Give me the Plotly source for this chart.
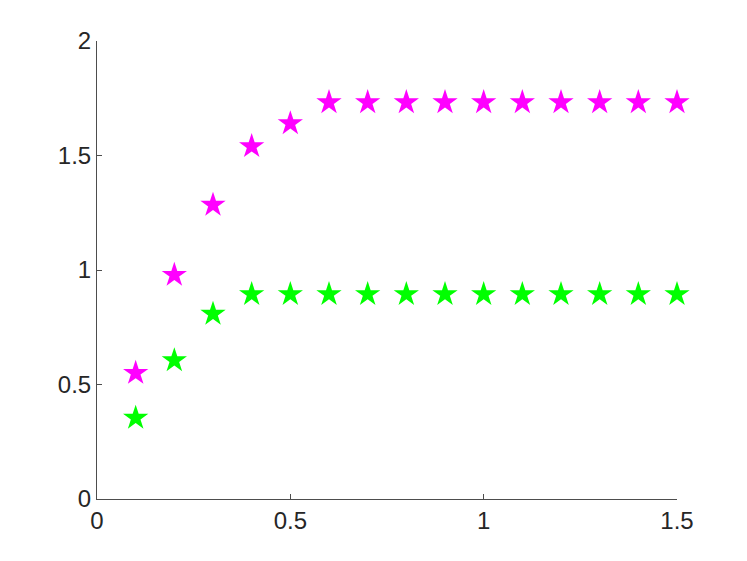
import plotly.graph_objects as go

x = [0.1, 0.2, 0.3, 0.4, 0.5, 0.6, 0.7, 0.8, 0.9, 1.0, 1.1, 1.2, 1.3, 1.4, 1.5]
magenta_y = [0.55, 0.978, 1.284, 1.54, 1.64, 1.732, 1.732, 1.732, 1.732, 1.732, 1.732, 1.732, 1.732, 1.732, 1.732]
green_y = [0.354, 0.605, 0.808, 0.894, 0.894, 0.894, 0.894, 0.894, 0.894, 0.894, 0.894, 0.894, 0.894, 0.894, 0.894]
x_ticks = [0, 0.5, 1, 1.5]
x_labels = ["0", "0.5", "1", "1.5"]
y_ticks = [0, 0.5, 1, 1.5, 2]
y_labels = ["0", "0.5", "1", "1.5", "2"]

fig = go.Figure()
fig.add_trace(go.Scatter(x=x, y=magenta_y, mode="markers", cliponaxis=False,
                         marker=dict(symbol="star", size=19, color="#ff00ff", line=dict(width=0))))
fig.add_trace(go.Scatter(x=x, y=green_y, mode="markers", cliponaxis=False,
                         marker=dict(symbol="star", size=19, color="#00ff00", line=dict(width=0))))

fig.update_layout(
    width=731, height=545,
    margin=dict(l=89, r=62, t=33, b=54),
    paper_bgcolor="white", plot_bgcolor="white",
    showlegend=False,
    font=dict(family="Liberation Sans", size=24, color="#262626"),
)
fig.update_xaxes(range=[0, 1.5], tickvals=x_ticks, ticktext=x_labels,
                 showline=True, linecolor="#4d4d4d", linewidth=1, ticks="inside", ticklen=5,
                 tickcolor="#4d4d4d", showgrid=False, zeroline=False,
                 tickfont=dict(family="Liberation Sans", size=24, color="#262626"))
fig.update_yaxes(range=[0, 2], tickvals=y_ticks, ticktext=y_labels,
                 showline=True, linecolor="#4d4d4d", linewidth=1, ticks="inside", ticklen=5,
                 tickcolor="#4d4d4d", showgrid=False, zeroline=False,
                 tickfont=dict(family="Liberation Sans", size=24, color="#262626"))
fig.write_html("out.html")
